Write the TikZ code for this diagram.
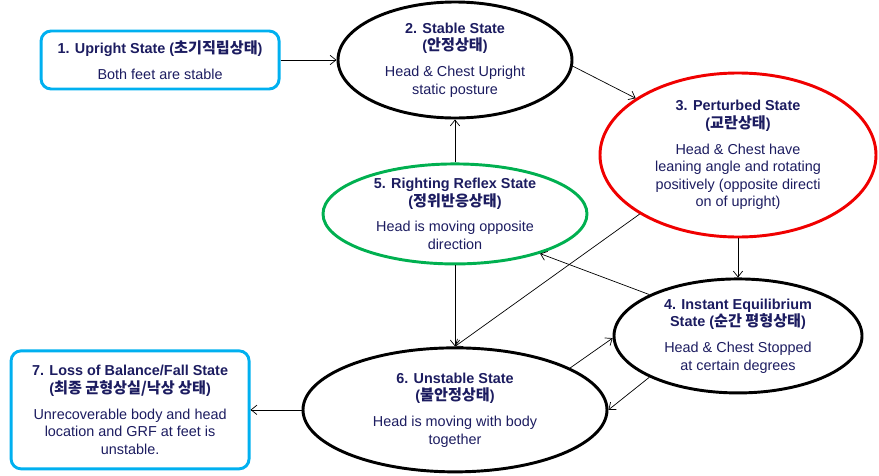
\documentclass[tikz,border=0pt]{standalone}
\usepackage{fontspec}
\setmainfont{Liberation Sans}
\newfontfamily\kr[Scale=1.05]{Noto Sans CJK KR}
\usepackage{tikz}
\usetikzlibrary{arrows.meta}
\usetikzlibrary{shapes.geometric}
\usetikzlibrary{positioning}
\definecolor{txtnavy}{RGB}{28,28,96}
\definecolor{boxcyan}{RGB}{0,176,240}
\definecolor{statered}{RGB}{240,0,0}
\definecolor{stategreen}{RGB}{0,176,80}
\newcommand{\hg}[1]{{\kr #1}}

\begin{document}
\begin{tikzpicture}[->,>={Straight Barb[length=5pt,width=8pt]},line width=0.6pt,
            font=\fontsize{12.3}{15}\selectfont,
            state node/.style={ellipse,draw,line width=2.5pt,inner sep=-1pt,align=center,text=txtnavy},
            box node/.style={rectangle,rounded corners=0.3cm,draw=boxcyan,line width=2.5pt,
              inner sep=0pt,align=center,text=txtnavy,minimum width=7.14cm}
            ]
            \useasboundingbox (0,0) rectangle (26.37,-14.25);

            \node[state node,minimum width=7.02cm,minimum height=3.48cm](stable) at (13.65,-1.8)
              {\textbf{2. Stable State}\\\textbf{(\hg{안정상태})}\\[7pt]Head \& Chest Upright\\static posture};
            \node[state node,draw=statered,minimum width=8.28cm,minimum height=4.92cm](perturbed) at (22.14,-4.65)
              {\textbf{3. Perturbed State}\\\textbf{(\hg{교란상태})}\\[7pt]Head \& Chest have\\leaning angle and rotating\\positively (opposite directi\\on of upright)};

            \node[box node,minimum height=1.74cm](upright)[left=1.68cm of stable]
              {\textbf{1. Upright State (\hg{초기직립상태})}\\[7pt]Both feet are stable};
            \node[state node,draw=stategreen,minimum width=7.92cm,minimum height=3cm](righting)[below=1.29cm of stable]
              {\textbf{5. Righting Reflex State}\\\textbf{(\hg{정위반응상태})}\\[7pt]Head is moving opposite\\direction};
            \node[state node,minimum width=7.44cm,minimum height=3.42cm](instant)[below=1.17cm of perturbed]
              {\textbf{4. Instant Equilibrium}\\\textbf{State (\hg{순간 평형상태})}\\[7pt]Head \& Chest Stopped\\at certain degrees};
            \node[state node,minimum width=9.12cm,minimum height=3.72cm](unstable)[below=2.43cm of righting]
              {\textbf{6. Unstable State}\\\textbf{(\hg{불안정상태})}\\[7pt]Head is moving with body\\together};
            \node[box node,minimum height=3.54cm](loss)[left=1.53cm of unstable]
              {\textbf{7. Loss of Balance/Fall State}\\\textbf{(\hg{최종 균형상실/낙상 상태})}\\[7pt]Unrecoverable body and head\\location and GRF at feet is\\unstable.};

            \path
            (upright) edge (stable)
            (stable.-3) edge (perturbed.151)
            (righting) edge (stable)
            (perturbed) edge (instant)
            (instant.155) edge (righting.-25)
            (perturbed.211) edge (unstable.north)
            (righting) edge (unstable)
            (unstable.20) edge (instant.181)
            (instant.205) edge (unstable.east)
            (unstable) edge (loss);

        \end{tikzpicture}
\end{document}
